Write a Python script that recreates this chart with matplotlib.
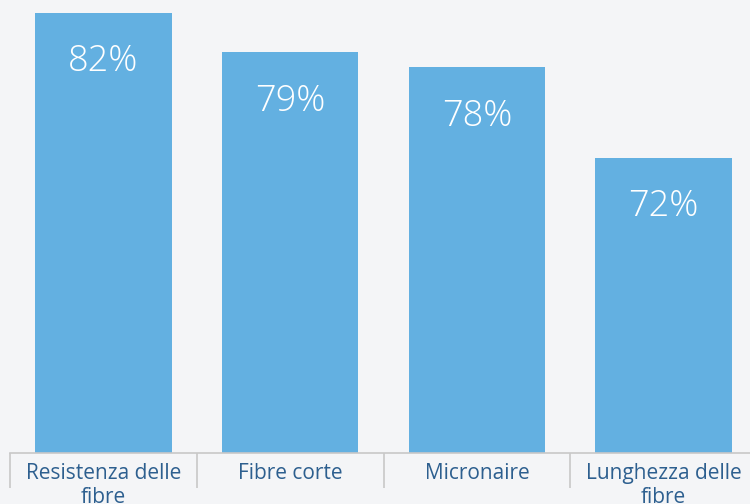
import matplotlib
matplotlib.use("Agg")
import matplotlib.pyplot as plt
import numpy as np

categories = ["Resistenza delle\nfibre", "Fibre corte", "Micronaire", "Lunghezza delle\nfibre"]
values = [82, 79, 78, 72]

BG = "#f4f5f7"
BAR = "#63b0e1"
TXT = "#2d5f8f"
GRID = "#c8c8c8"

plt.rcParams["font.family"] = ["Open Sans", "DejaVu Sans"]

fig = plt.figure(figsize=(7.5, 5.04), dpi=100, facecolor=BG)
ax = fig.add_axes([10 / 750, 51 / 504, 747 / 750, 440 / 504], facecolor=BG)

x = np.arange(len(categories))
ymin, ymax = 52.47, 52.47 + 440 / 15.1
bars = ax.bar(x, values, width=0.73, color=BAR, zorder=2)
ax.set_xlim(-0.5, len(categories) - 0.5)
ax.set_ylim(ymin, ymax)

for rect, v in zip(bars, values):
    ax.annotate(f"{v}%", (rect.get_x() + rect.get_width() / 2, min(v, ymax)),
                xytext=(0, -35), textcoords="offset points", ha="center", va="center",
                color="white", fontsize=26, fontweight="light")

for s in ["top", "left", "right"]:
    ax.spines[s].set_visible(False)
ax.spines["bottom"].set_color(GRID)
ax.spines["bottom"].set_linewidth(1.2)
ax.set_yticks([])
ax.set_xticks(x)
ax.set_xticklabels(categories, color=TXT, fontsize=15, linespacing=1.2)
ax.tick_params(axis="x", which="major", length=0, pad=7)
ax.set_xticks(np.arange(-0.5, len(categories)), minor=True)
ax.tick_params(axis="x", which="minor", length=25, width=1.2, color=GRID, direction="out")

fig.savefig("out.png", dpi=100, facecolor=BG)
